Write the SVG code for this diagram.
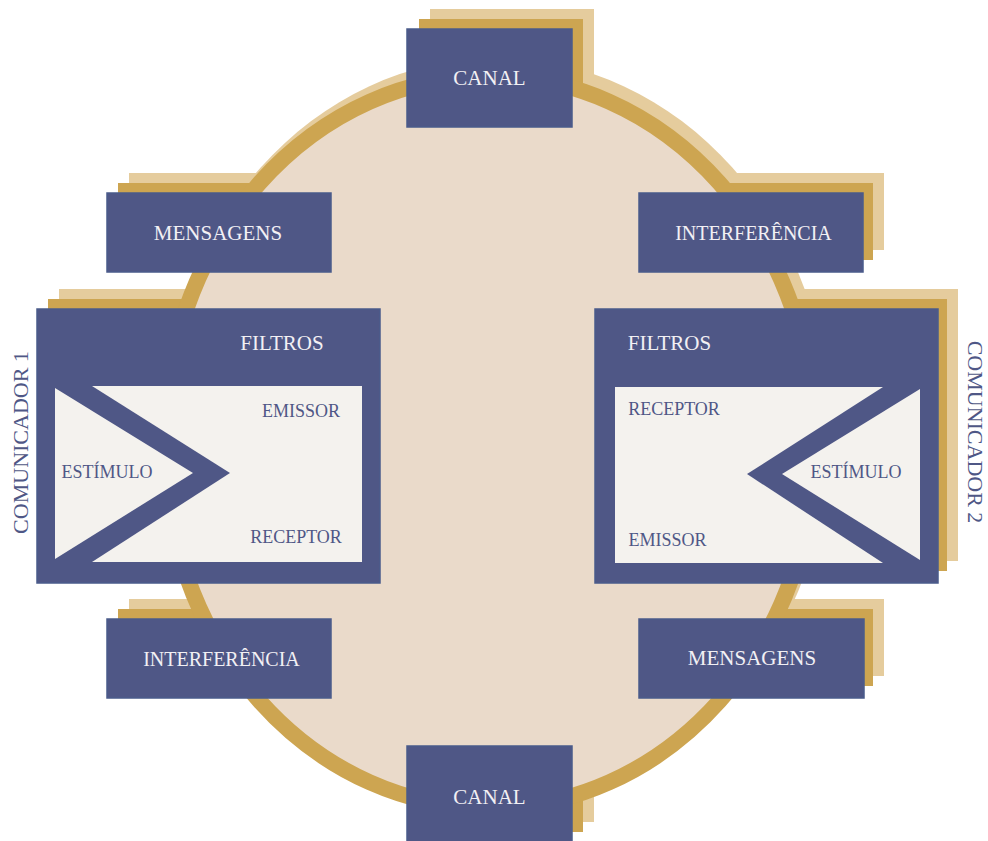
<svg xmlns="http://www.w3.org/2000/svg" width="988" height="841" viewBox="0 0 988 841">
<style>
.box{fill:#4F5786;stroke:#4A5B8B;stroke-width:1.5}
.sh1{fill:#CDA551}
.sh2{fill:#E5CC9D}
.lbl{font-family:"Liberation Serif","Times New Roman",serif;fill:#F2F0F4;text-anchor:middle;font-size:21px}
.in{font-family:"Liberation Serif","Times New Roman",serif;fill:#4F5786;font-size:18px}
.side{font-family:"Liberation Serif","Times New Roman",serif;fill:#4F5786;font-size:22px;text-anchor:middle}
.panel{fill:#F4F2EE}
.chev{fill:#4F5786}
</style>
<rect width="988" height="841" fill="#FFFFFF"/>
<g id="background-ring-halo">
<ellipse cx="496.5" cy="432" rx="333.5" ry="374" fill="#E5CC9D"/>
</g>
<g id="shadows">
<rect class="sh2" x="430" y="9" width="164" height="96"/>
<rect class="sh1" x="419" y="19" width="164" height="96"/>
<rect class="sh2" x="129" y="173" width="223" height="77"/>
<rect class="sh1" x="118" y="183" width="223" height="77"/>
<rect class="sh2" x="661" y="173" width="223" height="77"/>
<rect class="sh1" x="650" y="183" width="223" height="77"/>
<rect class="sh2" x="59" y="289" width="341" height="272"/>
<rect class="sh1" x="48" y="299" width="341" height="272"/>
<rect class="sh2" x="617" y="289" width="341" height="272"/>
<rect class="sh1" x="606" y="299" width="341" height="272"/>
<rect class="sh2" x="129" y="599" width="223" height="77"/>
<rect class="sh1" x="118" y="609" width="223" height="77"/>
<rect class="sh2" x="661" y="599" width="223" height="77"/>
<rect class="sh1" x="650" y="609" width="223" height="77"/>
<rect class="sh2" x="430" y="726" width="164" height="96"/>
<rect class="sh1" x="419" y="736" width="164" height="96"/>
</g>
<g id="connectors">
<ellipse cx="489.5" cy="442" rx="325.5" ry="366" fill="#EADACA" stroke="#CDA551" stroke-width="16"/>
</g>
<g id="canal-top">
<rect class="box" x="407" y="29" width="165" height="98"/>
<text class="lbl" x="489.5" y="85">CANAL</text>
</g>
<g id="mensagens-1">
<rect class="box" x="107" y="193" width="224" height="79"/>
<text class="lbl" x="218" y="240">MENSAGENS</text>
</g>
<g id="interferencia-1">
<rect class="box" x="639" y="193" width="224" height="79"/>
<text class="lbl" x="753.5" y="240" style="font-size:20px">INTERFERÊNCIA</text>
</g>
<g id="comunicador-1">
<rect class="box" x="37" y="309" width="343" height="274"/>
<rect class="panel" x="55" y="386" width="307" height="176"/>
<polygon class="chev" points="55,386 92,386 230,473 92,562 55,562"/>
<polygon class="panel" points="55,388 193,473 55,559"/>
<text class="lbl" x="282" y="350">FILTROS</text>
<text class="in" x="301" y="417" text-anchor="middle">EMISSOR</text>
<text class="in" x="296" y="543" text-anchor="middle">RECEPTOR</text>
<text class="in" x="107" y="478" text-anchor="middle">ESTÍMULO</text>
<text class="side" transform="translate(28,442.5) rotate(-90)">COMUNICADOR 1</text>
</g>
<g id="comunicador-2">
<rect class="box" x="595" y="309" width="343" height="274"/>
<rect class="panel" x="615" y="387" width="305" height="176"/>
<polygon class="chev" points="883,387 920,387 920,563 883,563 747,474"/>
<polygon class="panel" points="920,389 782,474 920,560"/>
<text class="lbl" x="669.5" y="350">FILTROS</text>
<text class="in" x="674" y="415" text-anchor="middle">RECEPTOR</text>
<text class="in" x="856" y="478" text-anchor="middle">ESTÍMULO</text>
<text class="in" x="667.5" y="546" text-anchor="middle">EMISSOR</text>
<text class="side" transform="translate(968,432) rotate(90)">COMUNICADOR 2</text>
</g>
<g id="interferencia-2">
<rect class="box" x="107" y="619" width="224" height="79"/>
<text class="lbl" x="221.5" y="666" style="font-size:20px">INTERFERÊNCIA</text>
</g>
<g id="mensagens-2">
<rect class="box" x="639" y="619" width="225" height="79"/>
<text class="lbl" x="752" y="665">MENSAGENS</text>
</g>
<g id="canal-bottom">
<rect class="box" x="407" y="746" width="165" height="98"/>
<text class="lbl" x="489.5" y="804">CANAL</text>
</g>
</svg>
